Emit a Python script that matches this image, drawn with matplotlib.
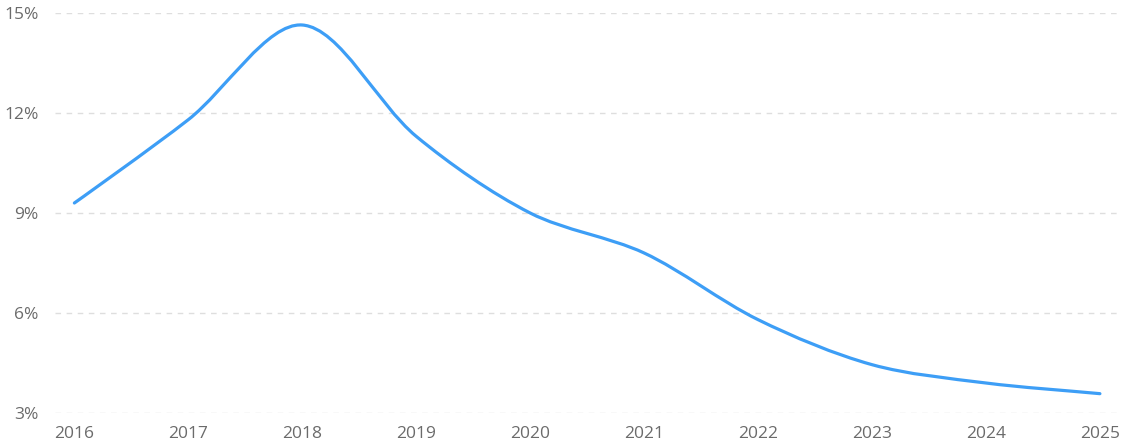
import numpy as np
import matplotlib.pyplot as plt
from matplotlib.path import Path
from matplotlib.patches import PathPatch

plt.rcParams['font.family'] = ['Open Sans', 'DejaVu Sans']

# yearly values, in percent
years = [2016, 2017, 2018, 2019, 2020, 2021, 2022, 2023, 2024, 2025]
values = [9.3, 11.8, 14.64, 11.3, 9.0, 7.8, 5.8, 4.45, 3.9, 3.58]
yticks = [3, 6, 9, 12, 15]

fig = plt.figure(figsize=(11.27, 4.47), dpi=100)
ax = fig.add_axes([55/1127, 34/447, (1117-55)/1127, (413-13)/447])
ax.set_xlim(2016-0.17, 2025+0.15)
ax.set_ylim(3, 15)

#smooth curve built like the echarts one (bezier in screen space)
def smooth_path(xs, ys, smooth=0.32):
    pts = ax.transData.transform(np.column_stack([xs, ys]))
    n = len(pts)
    verts = [pts[0]]
    codes = [Path.MOVETO]
    cp0 = pts[0]
    for i in range(1, n):
        p = pts[i]
        prev = pts[i-1]
        nxt = pts[i+1] if i < n-1 else p
        v = nxt - prev
        l0 = np.hypot(*(p - prev))
        l1 = np.hypot(*(nxt - p))
        r = l1/(l0+l1) if (l0+l1) > 0 else 0.5
        cp1 = p - v*smooth*(1-r)
        verts += [cp0, cp1, p]
        codes += [Path.CURVE4]*3
        cp0 = p + v*smooth*r
    verts = ax.transData.inverted().transform(np.array(verts))
    return Path(verts, codes)

ax.add_patch(PathPatch(smooth_path(years, values), facecolor='none',
                       edgecolor='#3d9ef6', lw=2.3, capstyle='round', zorder=3))

ax.set_yticks(yticks)
ax.set_yticklabels([f'{t}%' for t in yticks])
ax.set_xticks(years)
ax.yaxis.grid(True, color='#dedede', linestyle=(0, (4, 4)), lw=1)
for s in ax.spines.values():
    s.set_visible(False)
ax.tick_params(length=0, labelsize=12.5, colors='#6b6b6b')
ax.tick_params(axis='y', pad=12)
ax.tick_params(axis='x', pad=9)

plt.savefig('out.png', dpi=100)
